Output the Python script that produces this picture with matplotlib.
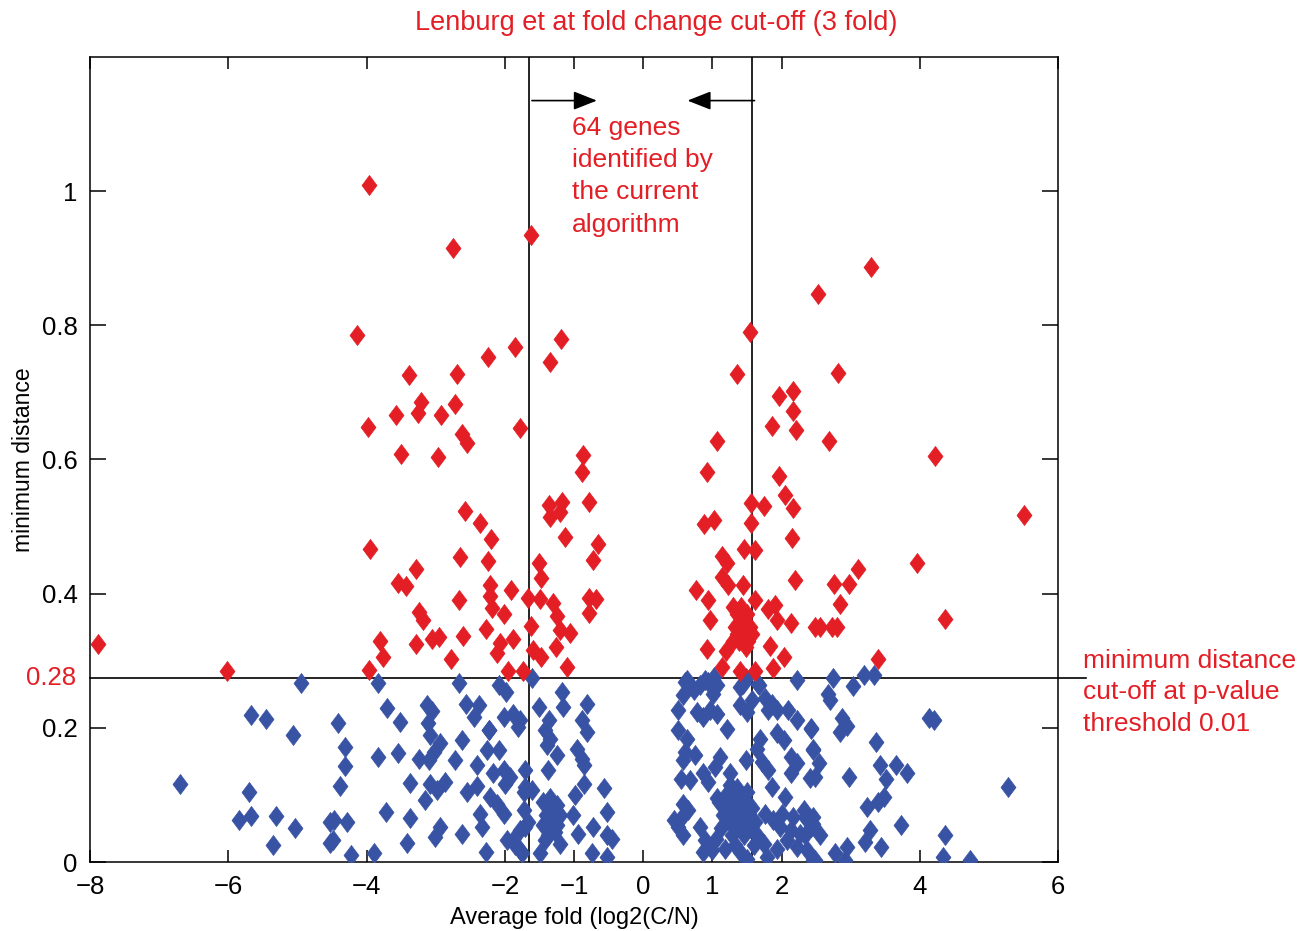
import matplotlib
matplotlib.use("Agg")
import matplotlib.pyplot as plt

plt.rcParams['font.family'] = ['Liberation Sans', 'DejaVu Sans']
plt.rcParams['axes.unicode_minus'] = True

RED = '#E31E25'
BLUE = '#3953A4'

# genes above the minimum distance cut-off
red_x = [-3.97, -2.75, -1.63, -4.14, -1.19, -1.86, -2.25, -1.35, -3.39, -2.69,
         -3.22, -2.72, -3.57, -3.26, -2.92, -3.98, -2.62, -2.55, -1.78, -3.51,
         -2.97, 3.30, 2.53, 1.54, 1.36, 2.81, 1.97, 2.16, 2.16, 1.86,
         2.21, 1.06, 2.69, -0.87, 4.22, -2.58, -2.36, -2.20, -3.95, -2.65,
         -2.25, -3.28, -3.54, -3.43, -2.21, -1.91, -2.67, -2.21, -2.19, -1.67,
         -1.50, -1.31, -3.25, -3.18, -2.01, -1.63, -1.25, -1.20, -1.06, -2.28,
         -3.81, -3.77, -3.96, -3.28, -3.06, -2.96, -2.61, -2.78, -2.07, -1.88,
         -2.11, -1.96, -1.74, -1.60, -1.48, -1.26, -1.10, -1.36, -1.18, -1.20,
         -1.35, -1.13, -1.51, -1.48, -0.89, -0.79, -0.65, -0.72, -0.79, -0.69,
         -0.79, 0.92, 0.88, 1.03, 1.56, 1.75, 1.56, 1.97, 2.05, 2.17,
         2.15, 2.20, 1.14, 1.21, 1.46, 1.61, 1.14, 1.23, 0.76, 0.94,
         1.45, 1.62, 1.81, 1.90, 1.93, 2.14, 2.48, 0.97, 0.92, 1.19,
         1.14, 1.40, 1.61, 1.83, 2.03, 1.87, 1.30, 1.36, 1.42, 1.50,
         1.33, 1.40, 1.47, 1.55, 1.30, 1.38, 1.45, 1.52, 1.58, 1.42,
         1.35, 1.48, 5.51, 3.96, 3.10, 2.76, 2.98, 2.84, 2.73, 2.80,
         2.56, 4.36, 3.39, -7.89, -6.02]
red_y = [1.009, 0.915, 0.934, 0.785, 0.780, 0.768, 0.753, 0.746, 0.726, 0.727,
         0.686, 0.683, 0.667, 0.670, 0.667, 0.649, 0.638, 0.624, 0.647, 0.608,
         0.603, 0.887, 0.847, 0.790, 0.728, 0.729, 0.694, 0.702, 0.672, 0.650,
         0.644, 0.627, 0.627, 0.606, 0.605, 0.523, 0.505, 0.481, 0.467, 0.455,
         0.449, 0.437, 0.416, 0.412, 0.413, 0.405, 0.391, 0.397, 0.378, 0.393,
         0.392, 0.386, 0.372, 0.361, 0.369, 0.352, 0.366, 0.346, 0.341, 0.348,
         0.330, 0.305, 0.286, 0.325, 0.332, 0.336, 0.337, 0.302, 0.326, 0.332,
         0.311, 0.285, 0.285, 0.316, 0.306, 0.320, 0.291, 0.532, 0.537, 0.522,
         0.515, 0.484, 0.445, 0.423, 0.582, 0.536, 0.474, 0.450, 0.393, 0.392,
         0.371, 0.582, 0.504, 0.510, 0.535, 0.531, 0.506, 0.576, 0.547, 0.527,
         0.483, 0.420, 0.456, 0.445, 0.466, 0.465, 0.425, 0.413, 0.406, 0.390,
         0.413, 0.391, 0.377, 0.383, 0.361, 0.357, 0.351, 0.361, 0.317, 0.315,
         0.291, 0.284, 0.284, 0.322, 0.306, 0.289, 0.380, 0.370, 0.380, 0.370,
         0.350, 0.350, 0.350, 0.350, 0.330, 0.330, 0.330, 0.330, 0.340, 0.360,
         0.340, 0.320, 0.518, 0.446, 0.437, 0.415, 0.415, 0.385, 0.351, 0.350,
         0.351, 0.362, 0.302, 0.325, 0.284]

# genes below the cut-off
blue_x = [-4.95, -5.67, -5.46, -5.06, -6.70, -5.70, -5.84, -5.67, -5.31, -5.04,
          -5.36, -3.83, -2.66, -2.09, -1.98, -3.70, -3.52, -4.42, -3.13, -3.06,
          -3.11, -3.08, -2.57, -2.38, -2.45, -2.23, -2.02, -1.88, -1.78, -1.81,
          -2.62, -4.31, -3.83, -3.55, -2.94, -3.03, -3.10, -3.25, -2.72, -2.26,
          -2.09, -2.41, -4.31, -2.17, -2.02, -2.00, -1.71, -3.38, -4.39, -3.08,
          -2.86, -2.98, -3.16, -2.55, -2.41, -2.21, -2.12, -2.02, -1.73, -3.72,
          -3.37, -4.47, -4.29, -2.36, -2.33, -1.73, -1.71, -2.94, -3.01, -2.62,
          -3.42, -4.48, -1.97, -1.85, -1.76, -4.23, -3.90, -2.27, -1.61, -1.18,
          -1.16, -1.51, -0.81, -1.37, -1.42, -1.35, -1.39, -0.89, -0.81, -0.96,
          -0.89, -0.86, -1.25, -1.38, -1.92, -1.71, -1.61, -0.86, -0.57, -0.98,
          -1.45, -1.35, -1.25, -1.40, -1.30, -1.20, -1.45, -1.35, -1.25, -1.30,
          -1.38, -1.28, -1.66, -1.01, -0.53, -0.72, -0.94, -0.53, -0.45, -1.78,
          -1.88, -1.78, -1.42, -1.49, -1.20, -0.74, -0.53, -2.23, -4.53, -4.53,
          0.61, 0.73, 0.58, 0.82, 0.94, 1.01, 1.06, 0.51, 0.78, 0.87,
          0.97, 1.06, 1.21, 1.40, 1.48, 1.67, 1.57, 1.40, 1.50, 1.76,
          1.86, 1.81, 1.93, 2.22, 2.10, 2.22, 2.42, 0.51, 0.63, 1.93,
          2.03, 1.69, 1.64, 0.61, 0.75, 0.58, 1.11, 1.04, 1.48, 1.72,
          1.81, 2.13, 2.22, 2.13, 2.46, 2.49, 0.54, 0.68, 0.87, 0.94,
          1.26, 1.86, 2.05, 0.58, 0.65, 0.56, 1.06, 1.76, 1.88, 2.01,
          2.17, 2.32, 2.46, 0.44, 0.51, 0.58, 0.82, 0.90, 0.87, 0.99,
          1.40, 1.50, 1.74, 1.79, 1.93, 2.08, 2.22, 2.37, 1.98, 2.13,
          2.27, 2.42, 2.46, 1.10, 1.15, 1.12, 1.20, 1.22, 1.25, 1.28,
          1.30, 1.33, 1.36, 1.38, 1.40, 1.43, 1.46, 1.48, 1.52, 1.55,
          1.58, 1.62, 1.65, 1.35, 1.50, 1.25, 1.05, 1.18, 1.32, 1.60,
          0.63, 0.90, 1.02, 1.45, 1.66, 2.75, 3.19, 3.34, 3.04, 2.67,
          2.70, 4.13, 4.20, 2.42, 2.87, 2.94, 2.84, 3.37, 2.46, 2.54,
          3.43, 3.66, 3.81, 3.51, 2.41, 2.97, 5.28, 3.23, 3.40, 3.48,
          2.34, 2.46, 2.56, 2.34, 3.73, 3.28, 3.21, 3.44, 4.37, 2.94,
          2.78, 2.49, 2.92, 4.34, 4.72]
blue_y = [0.267, 0.219, 0.213, 0.189, 0.117, 0.104, 0.063, 0.068, 0.069, 0.050,
          0.026, 0.267, 0.267, 0.264, 0.254, 0.229, 0.209, 0.207, 0.234, 0.225,
          0.207, 0.189, 0.236, 0.234, 0.216, 0.197, 0.216, 0.221, 0.212, 0.201,
          0.182, 0.172, 0.156, 0.163, 0.177, 0.164, 0.152, 0.153, 0.152, 0.167,
          0.167, 0.144, 0.143, 0.133, 0.137, 0.117, 0.137, 0.118, 0.113, 0.117,
          0.120, 0.107, 0.092, 0.104, 0.114, 0.097, 0.087, 0.072, 0.104, 0.075,
          0.065, 0.063, 0.060, 0.072, 0.052, 0.077, 0.052, 0.052, 0.037, 0.042,
          0.029, 0.033, 0.033, 0.025, 0.013, 0.011, 0.013, 0.015, 0.274, 0.254,
          0.231, 0.231, 0.236, 0.212, 0.197, 0.184, 0.174, 0.212, 0.194, 0.169,
          0.154, 0.144, 0.159, 0.137, 0.127, 0.112, 0.107, 0.117, 0.110, 0.100,
          0.090, 0.095, 0.085, 0.070, 0.065, 0.070, 0.055, 0.050, 0.055, 0.080,
          0.040, 0.045, 0.060, 0.070, 0.075, 0.052, 0.042, 0.040, 0.035, 0.047,
          0.033, 0.018, 0.033, 0.013, 0.027, 0.013, 0.007, 0.197, 0.060, 0.029,
          0.269, 0.256, 0.249, 0.264, 0.269, 0.251, 0.264, 0.227, 0.224, 0.216,
          0.226, 0.221, 0.199, 0.261, 0.274, 0.264, 0.242, 0.234, 0.224, 0.244,
          0.236, 0.226, 0.226, 0.271, 0.226, 0.212, 0.199, 0.197, 0.184, 0.192,
          0.182, 0.184, 0.169, 0.164, 0.159, 0.152, 0.157, 0.142, 0.152, 0.149,
          0.137, 0.157, 0.147, 0.132, 0.167, 0.127, 0.124, 0.122, 0.132, 0.119,
          0.132, 0.112, 0.097, 0.087, 0.077, 0.067, 0.095, 0.072, 0.062, 0.072,
          0.067, 0.077, 0.067, 0.062, 0.052, 0.040, 0.052, 0.033, 0.015, 0.018,
          0.015, 0.005, 0.027, 0.007, 0.020, 0.033, 0.022, 0.018, 0.052, 0.047,
          0.042, 0.052, 0.003, 0.090, 0.070, 0.050, 0.100, 0.080, 0.060, 0.040,
          0.090, 0.070, 0.050, 0.100, 0.080, 0.060, 0.040, 0.090, 0.070, 0.050,
          0.080, 0.060, 0.040, 0.110, 0.105, 0.115, 0.035, 0.020, 0.025, 0.025,
          0.271, 0.271, 0.276, 0.266, 0.266, 0.275, 0.279, 0.279, 0.262, 0.250,
          0.242, 0.214, 0.212, 0.200, 0.214, 0.202, 0.194, 0.179, 0.168, 0.148,
          0.144, 0.144, 0.132, 0.124, 0.125, 0.126, 0.112, 0.082, 0.090, 0.097,
          0.067, 0.057, 0.040, 0.040, 0.055, 0.047, 0.030, 0.023, 0.041, 0.022,
          0.013, 0.003, 0.003, 0.007, 0.003]

xticks = [-8, -6, -4, -2, -1, 0, 1, 2, 4, 6]
yticks = [0, 0.2, 0.4, 0.6, 0.8, 1]
fold_cut = [-1.65, 1.57]
dist_cut = 0.275

diamond = [(0, 1), (0.75, 0), (0, -1), (-0.75, 0), (0, 1)]

fig = plt.figure(figsize=(13.11, 9.31), dpi=100)
ax = fig.add_axes([0.0687, 0.0741, 0.7384, 0.8647])

ax.plot(blue_x, blue_y, linestyle='none', marker=diamond, ms=14.4,
        color=BLUE, mec=BLUE, mew=0.5, zorder=3)
ax.plot(red_x, red_y, linestyle='none', marker=diamond, ms=14.4,
        color=RED, mec=RED, mew=0.5, zorder=4)

for xc in fold_cut:
    ax.plot([xc, xc], [0, 1.2], color='k', lw=1.2, zorder=2)
ax.plot([-8, 6.41], [dist_cut, dist_cut], color='k', lw=1.2, zorder=2, clip_on=False)

arrow_style = '-|>,head_length=0.48,head_width=0.19'
ax.annotate('', xy=(-0.63, 1.135), xytext=(-1.65, 1.135),
            arrowprops=dict(arrowstyle=arrow_style, color='k', lw=1.2, mutation_scale=30))
ax.annotate('', xy=(0.6, 1.135), xytext=(1.65, 1.135),
            arrowprops=dict(arrowstyle=arrow_style, color='k', lw=1.2, mutation_scale=30))

ax.set_xlim(-8, 6)
ax.set_ylim(0, 1.2)
ax.set_xticks(xticks)
ax.set_xticklabels([str(t).replace('-', '\u2212') for t in xticks])
ax.set_yticks(yticks)
ax.set_yticklabels(['0', '0.2', '0.4', '0.6', '0.8', '1'])
ax.tick_params(axis='both', direction='in', labelsize=18.5, width=1.1,
               top=True, right=True)
ax.tick_params(axis='x', length=8.5, pad=9)
ax.tick_params(axis='y', length=11.3, pad=9)
for s in ax.spines.values():
    s.set_linewidth(1.1)

ax.set_xlabel('Average fold (log2(C/N)', fontsize=17, labelpad=6)
ax.set_ylabel('minimum distance', fontsize=16.5, labelpad=5)

fig.text(0.5004, 0.975, 'Lenburg et at fold change cut-off (3 fold)', color=RED,
         fontsize=19.5, ha='center', va='center')
ax.text(-1.03, 1.112, '64 genes\nidentified by\nthe current\nalgorithm', color=RED,
        fontsize=19, ha='left', va='top', linespacing=1.43)
ax.text(6.36, 0.253, 'minimum distance\ncut-off at p-value\nthreshold 0.01',
        color=RED, fontsize=19, ha='left', va='center', linespacing=1.4)
ax.text(-8.57, dist_cut, '0.28', color=RED, fontsize=18.5, ha='center', va='center')

fig.savefig('out.png', dpi=100)
